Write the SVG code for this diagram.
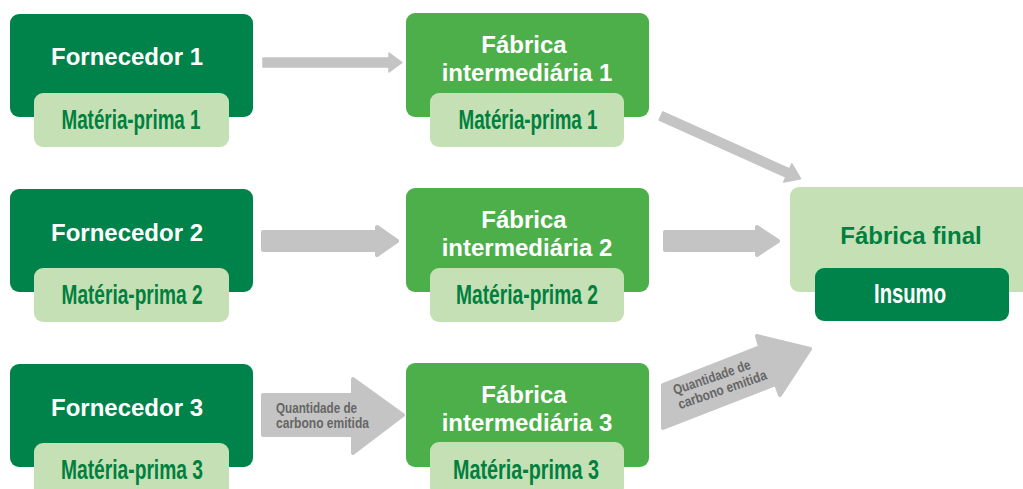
<svg xmlns="http://www.w3.org/2000/svg" width="1023" height="489" viewBox="0 0 1023 489">
<style>
.dark{fill:#00834A}
.mid{fill:#4DAF4A}
.light{fill:#C6E0B5}
.t{font-family:"Liberation Sans",Arial,sans-serif;font-weight:bold;font-size:24px;fill:#ffffff;text-anchor:middle}
.c{font-family:"Liberation Sans",Arial,sans-serif;font-weight:bold;font-size:28px;fill:#00803F;text-anchor:middle}
.cw{fill:#ffffff}
.g{font-family:"Liberation Sans",Arial,sans-serif;font-weight:bold;font-size:14px;fill:#666666}
.arr{fill:#C4C4C4;stroke:#C4C4C4;stroke-linejoin:round}
</style>
<rect width="1023" height="489" fill="#ffffff"/>
<g id="connectors">
<path class="arr" stroke-width="1.5" d="M263,58 H389 V53 L402,62.5 L389,72 V67 H263 Z"/>
<path class="arr" stroke-width="1.5" transform="translate(661,116) rotate(24.2)" d="M0,-4.5 H139 V-10 L153,0 L139,10 V4.5 H0 Z"/>
<path class="arr" stroke-width="4" d="M263,232 H377 V227 L397,241 L377,255 V250 H263 Z"/>
<path class="arr" stroke-width="4" d="M665,232 H757 V227 L778,241 L757,255 V250 H665 Z"/>
<path class="arr" stroke-width="4" d="M263,395 H353 V379 L403,415 L353,453 V435 H263 Z"/>
<path class="arr" stroke-width="4" d="M663,385 L760,347 L757,336 L810,349 L780,395 L776,384 L663,428 Z"/>
<text class="g" x="276" y="413" textLength="81" lengthAdjust="spacingAndGlyphs">Quantidade de</text>
<text class="g" x="276" y="428" textLength="93" lengthAdjust="spacingAndGlyphs">carbono emitida</text>
<g transform="translate(675,395) rotate(-19)">
<text class="g" x="0" y="0" textLength="81" lengthAdjust="spacingAndGlyphs">Quantidade de</text>
<text class="g" x="0" y="15" textLength="93" lengthAdjust="spacingAndGlyphs">carbono emitida</text>
</g>
</g>
<g id="fornecedor1">
<rect class="dark" x="10" y="14" width="243" height="103" rx="9"/>
<text class="t" x="127" y="65">Fornecedor 1</text>
<rect class="light" x="34" y="93" width="195" height="54" rx="9"/>
<text class="c" x="131" y="129" textLength="139" lengthAdjust="spacingAndGlyphs">Matéria-prima 1</text>
</g>
<g id="fornecedor2">
<rect class="dark" x="10" y="189" width="243" height="103" rx="9"/>
<text class="t" x="127" y="241">Fornecedor 2</text>
<rect class="light" x="34" y="268" width="195" height="54" rx="9"/>
<text class="c" x="132" y="304" textLength="141" lengthAdjust="spacingAndGlyphs">Matéria-prima 2</text>
</g>
<g id="fornecedor3">
<rect class="dark" x="10" y="364" width="243" height="103" rx="9"/>
<text class="t" x="127" y="416">Fornecedor 3</text>
<rect class="light" x="34" y="443" width="195" height="54" rx="9"/>
<text class="c" x="132" y="479" textLength="142" lengthAdjust="spacingAndGlyphs">Matéria-prima 3</text>
</g>
<g id="fabrica1">
<rect class="mid" x="406" y="13" width="243" height="104" rx="9"/>
<text class="t" x="524" y="53">Fábrica</text>
<text class="t" x="527" y="81">intermediária 1</text>
<rect class="light" x="430" y="93" width="194" height="54" rx="9"/>
<text class="c" x="528" y="129" textLength="139" lengthAdjust="spacingAndGlyphs">Matéria-prima 1</text>
</g>
<g id="fabrica2">
<rect class="mid" x="406" y="188" width="243" height="104" rx="9"/>
<text class="t" x="524" y="228">Fábrica</text>
<text class="t" x="527" y="256">intermediária 2</text>
<rect class="light" x="430" y="268" width="194" height="54" rx="9"/>
<text class="c" x="527" y="304" textLength="142" lengthAdjust="spacingAndGlyphs">Matéria-prima 2</text>
</g>
<g id="fabrica3">
<rect class="mid" x="406" y="363" width="243" height="104" rx="9"/>
<text class="t" x="524" y="403">Fábrica</text>
<text class="t" x="527" y="431">intermediária 3</text>
<rect class="light" x="430" y="442" width="194" height="54" rx="9"/>
<text class="c" x="526" y="479" textLength="146" lengthAdjust="spacingAndGlyphs">Matéria-prima 3</text>
</g>
<g id="fabricafinal">
<rect class="light" x="790" y="187" width="243" height="105" rx="9"/>
<text class="t" x="911" y="244" style="fill:#00803F">Fábrica final</text>
<rect class="dark" x="815" y="268" width="194" height="53" rx="9"/>
<text class="c cw" x="910" y="303" textLength="72" lengthAdjust="spacingAndGlyphs">Insumo</text>
</g>
</svg>
